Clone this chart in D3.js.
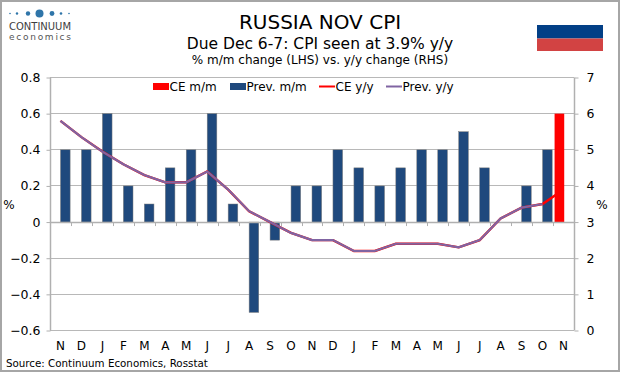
<!DOCTYPE html>
<html>
<head>
<meta charset="utf-8">
<script src="https://cdn.jsdelivr.net/npm/d3@7"></script>
<style>
  html, body { margin: 0; padding: 0; background: #fff; }
  svg { display: block; }
  text { font-family: "DejaVu Sans", Verdana, sans-serif; fill: #000; }
  .axis path { display: none; }
  .axis line { stroke: #b0b0b0; }
</style>
</head>
<body>
<div id="viz"></div>
<script>
// data
const months = ["N","D","J","F","M","A","M","J","J","A","S","O","N","D","J","F","M","A","M","J","J","A","S","O","N"];
const prevMoM = [0.4,0.4,0.6,0.2,0.1,0.3,0.4,0.6,0.1,-0.5,-0.1,0.2,0.2,0.4,0.3,0.2,0.3,0.4,0.4,0.5,0.3,0,0.2,0.4,null];
const ceMoM = [null,null,null,null,null,null,null,null,null,null,null,null,null,null,null,null,null,null,null,null,null,null,null,null,0.6];
const prevYoY = [5.8,5.35,4.95,4.6,4.3,4.1,4.1,4.4,3.9,3.3,3.0,2.7,2.5,2.5,2.2,2.2,2.4,2.4,2.4,2.3,2.5,3.1,3.4,3.5,null];
const ceYoY = [5.8,5.35,4.95,4.6,4.3,4.1,4.1,4.4,3.9,3.3,3.0,2.7,2.5,2.5,2.2,2.2,2.4,2.4,2.4,2.3,2.5,3.1,3.4,3.5,3.9];
const lhsTicks = [-0.6,-0.4,-0.2,0,0.2,0.4,0.6,0.8];
const rhsTicks = [0,1,2,3,4,5,6,7];

const width = 620, height = 372;
const plot = { left: 50, right: 574, top: 77.5, bottom: 330.5 };
const blue = "#1f497d", red = "#ff0000", purple = "#8064a2";

const svg = d3.select("#viz").append("svg")
  .attr("width", width).attr("height", height);

// outer frame
svg.append("rect")
  .attr("x", 1).attr("y", 1).attr("width", width - 2).attr("height", height - 2)
  .attr("fill", "#fff").attr("stroke", "#a6a6a6").attr("stroke-width", 2);

// scales
const x = d3.scaleBand().domain(d3.range(months.length)).range([plot.left, plot.right]);
const yL = d3.scaleLinear().domain([-0.6, 0.8]).range([plot.bottom, plot.top]);
const yR = d3.scaleLinear().domain([0, 7]).range([plot.bottom, plot.top]);
const barW = x.bandwidth() * 0.46;

// gridlines
svg.append("g").selectAll("line").data(lhsTicks).enter().append("line")
  .attr("x1", plot.left).attr("x2", plot.right)
  .attr("y1", d => Math.floor(yL(d)) + 0.5).attr("y2", d => Math.floor(yL(d)) + 0.5)
  .attr("stroke", "#b8b8b8");

// left and right axes
const left = svg.append("g").attr("class", "axis")
  .attr("transform", "translate(" + (plot.left + 0.5) + ",0)")
  .call(d3.axisLeft(yL).tickValues(lhsTicks).tickSize(4).tickPadding(6)
    .tickFormat(d => d === 0 ? "0" : d3.format(".1f")(d)));
const right = svg.append("g").attr("class", "axis")
  .attr("transform", "translate(" + (plot.right + 0.5) + ",0)")
  .call(d3.axisRight(yR).tickValues(rhsTicks).tickSize(4).tickPadding(8).tickFormat(d3.format("d")));
[left, right].forEach(a => a.selectAll("text").style("font-size", "12.5px"));

svg.selectAll(".vline").data([plot.left, plot.right]).enter().append("line")
  .attr("x1", d => d + 0.5).attr("x2", d => d + 0.5)
  .attr("y1", plot.top).attr("y2", plot.bottom)
  .attr("stroke", "#b0b0b0").attr("stroke-width", 1.5);

// month labels along the bottom
const bottom = svg.append("g").attr("class", "axis")
  .attr("transform", "translate(0," + (plot.bottom + 7) + ")")
  .call(d3.axisBottom(x).tickSize(0).tickPadding(4).tickFormat(i => months[i]));
bottom.selectAll("text").style("font-size", "12px");

// bars
svg.append("g").selectAll("rect").data(prevMoM.map((v, i) => ({ v, i })).filter(d => d.v !== null && d.v !== 0))
  .enter().append("rect")
  .attr("x", d => x(d.i) + x.bandwidth() / 2)
  .attr("width", barW)
  .attr("y", d => yL(Math.max(d.v, 0)))
  .attr("height", d => Math.abs(yL(d.v) - yL(0)))
  .attr("fill", blue).attr("stroke", "#7f7f7f").attr("stroke-width", 0.5);

svg.append("g").selectAll("rect").data(ceMoM.map((v, i) => ({ v, i })).filter(d => d.v !== null))
  .enter().append("rect")
  .attr("x", d => x(d.i) + x.bandwidth() / 2 - barW + 0.7)
  .attr("width", barW)
  .attr("y", d => yL(d.v))
  .attr("height", d => yL(0) - yL(d.v))
  .attr("fill", red);

// zero line and its ticks sit over the bars
svg.append("line")
  .attr("x1", plot.left).attr("x2", plot.right)
  .attr("y1", Math.floor(yL(0)) + 0.5).attr("y2", Math.floor(yL(0)) + 0.5)
  .attr("stroke", "#b0b0b0").attr("stroke-width", 1.5);
svg.append("g").selectAll("line").data(d3.range(months.length + 1)).enter().append("line")
  .attr("x1", i => Math.round(plot.left + i * x.step()) + 0.5)
  .attr("x2", i => Math.round(plot.left + i * x.step()) + 0.5)
  .attr("y1", yL(0)).attr("y2", yL(0) + 4)
  .attr("stroke", "#b0b0b0");

// lines, the purple drawn over the red
const line = d3.line()
  .defined(d => d !== null)
  .x((d, i) => x(i) + x.bandwidth() / 2)
  .y(d => yR(d));

svg.append("path").datum(ceYoY).attr("d", line)
  .attr("fill", "none").attr("stroke", red).attr("stroke-width", 2.4);
svg.append("path").datum(prevYoY).attr("d", line)
  .attr("fill", "none").attr("stroke", purple).attr("stroke-width", 2.2);

// titles
const titles = [
  ["RUSSIA NOV CPI", 320, 29, 20],
  ["Due Dec 6-7: CPI seen at 3.9% y/y", 320, 49, 15.5],
  ["% m/m change (LHS) vs. y/y change (RHS)", 320, 64, 12]
];
svg.append("g").selectAll("text").data(titles).enter().append("text")
  .attr("x", d => d[1]).attr("y", d => d[2])
  .attr("text-anchor", "middle").style("font-size", d => d[3] + "px")
  .text(d => d[0]);

// % unit labels
svg.append("text").attr("x", 9).attr("y", 209).attr("text-anchor", "middle").style("font-size", "12px").text("%");
svg.append("text").attr("x", 602).attr("y", 209).attr("text-anchor", "middle").style("font-size", "12px").text("%");

// legend
const legendBars = [["CE m/m", red, 153], ["Prev. m/m", blue, 230]];
const legendLines = [["CE y/y", red, 319], ["Prev. y/y", purple, 386]];
svg.append("g").selectAll("rect").data(legendBars).enter().append("rect")
  .attr("x", d => d[2]).attr("y", 83).attr("width", 16).attr("height", 7).attr("fill", d => d[1]);
svg.append("g").selectAll("line").data(legendLines).enter().append("line")
  .attr("x1", d => d[2]).attr("x2", d => d[2] + 16).attr("y1", 86.5).attr("y2", 86.5)
  .attr("stroke", d => d[1]).attr("stroke-width", 2);
svg.append("g").selectAll("text").data(legendBars.concat(legendLines)).enter().append("text")
  .attr("x", d => d[2] + 16.5).attr("y", 91).style("font-size", "12px").text(d => d[0]);

// source
svg.append("text").attr("x", 6).attr("y", 367).style("font-size", "10.3px").text("Source: Continuum Economics, Rosstat");

// flag
svg.append("rect").attr("x", 537).attr("y", 25).attr("width", 66).attr("height", 13.5).attr("fill", "#023f86");
svg.append("rect").attr("x", 537).attr("y", 38.5).attr("width", 66).attr("height", 12.5).attr("fill", "#d24343");

// logo
const logoDots = [[10, 0.8], [17, 1.2], [28, 2.2], [39.5, 4], [52, 2.4], [61, 1.3], [69, 0.8]];
svg.append("g").selectAll("circle").data(logoDots).enter().append("circle")
  .attr("cx", d => d[0]).attr("cy", 13.5).attr("r", d => d[1]).attr("fill", "#2f75a9");
svg.append("text").attr("x", 9).attr("y", 29.5).attr("textLength", 62).attr("lengthAdjust", "spacingAndGlyphs")
  .style("font-size", "10px").style("fill", "#3d3d3d").text("CONTINUUM");
svg.append("text").attr("x", 9).attr("y", 39.5).attr("textLength", 62)
  .style("font-size", "9px").style("fill", "#555").text("economics");
</script>
</body>
</html>
